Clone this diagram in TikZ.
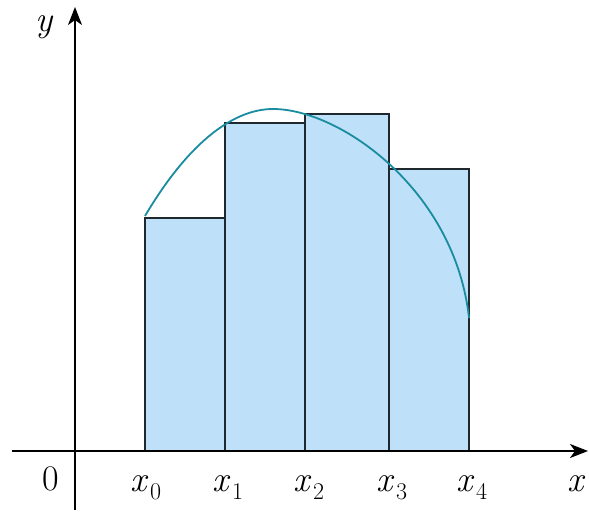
\documentclass[tikz,border=0pt]{standalone}
\usetikzlibrary{arrows.meta}
\definecolor{barfill}{RGB}{190,224,248}
\definecolor{curvecol}{RGB}{25,140,160}
\definecolor{edge}{RGB}{30,40,45}
\newcommand\xsb[1]{\textit{x}\kern1pt\raisebox{-8pt}{\fontsize{24}{26}\selectfont #1}}
\tikzset{
  axis/.style={line width=1.6pt, draw=black, -{Stealth[length=18pt,width=14pt,inset=5pt]}},
  bar/.style={fill=barfill, draw=edge, line width=1.8pt},
  lab/.style={font=\fontsize{36}{40}\selectfont, inner sep=0pt, anchor=base},
}
\begin{document}
\begin{tikzpicture}[x=1pt,y=-1pt]
\useasboundingbox (0,0) rectangle (589,514);
% bars
\draw[bar] (145,451) rectangle (225,218);
\draw[bar] (225,451) rectangle (305,123);
\draw[bar] (305,451) rectangle (389,114);
\draw[bar] (389,451) rectangle (469,169);
% curve
\draw[curvecol, line width=1.8pt] (145,216) .. controls (190,140) and (235,109) .. (273,109)
  .. controls (340,109) and (455,190) .. (469,318);
% axes
\coordinate (xs) at (12,451);
\coordinate (xe) at (588,451);
\coordinate (ys) at (75,510);
\coordinate (ye) at (75,7);
\draw[axis] (xs) -- (xe);
\draw[axis] (ys) -- (ye);
% labels
\node[lab] (ylab) at (45,31) {\textit{y}};
\node[lab] (zero) at (51,490) {0};
\node[lab] (x0) at (146,491) {\xsb{0}};
\node[lab] (x1) at (228,491) {\xsb{1}};
\node[lab] (x2) at (309,491) {\xsb{2}};
\node[lab] (x3) at (392,491) {\xsb{3}};
\node[lab] (x4) at (472,491) {\xsb{4}};
\node[lab] (xlab) at (577,491) {\textit{x}};
\end{tikzpicture}
\end{document}
